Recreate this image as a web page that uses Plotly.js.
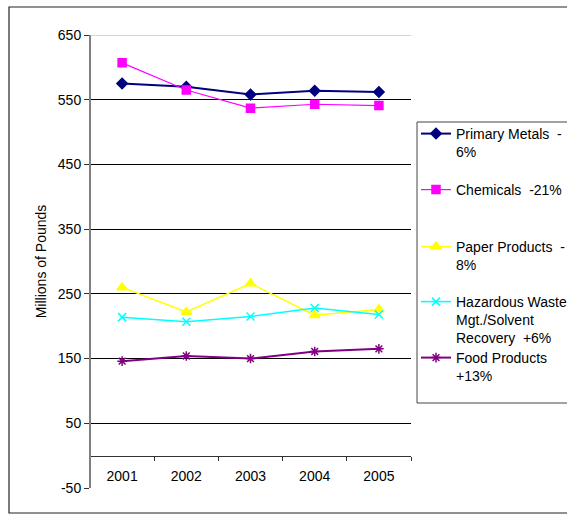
<!DOCTYPE html>
<html>
<head>
<meta charset="utf-8">
<script src="https://cdn.plot.ly/plotly-3.0.1.min.js"></script>
<style>html,body{margin:0;padding:0;background:#fff;}#chart{width:567px;height:516px;}</style>
</head>
<body>
<div id="chart"></div>
<script>
var years = ['2001', '2002', '2003', '2004', '2005'];
var primaryMetals = [575, 570, 558, 564, 562];
var chemicals = [607, 565, 537, 543, 541];
var paperProducts = [260, 222, 266, 217, 226];
var hazardousWaste = [214, 207, 215, 228, 218];
var foodProducts = [146, 154, 150, 161, 165];
var seriesNames = [
  'Primary Metals \u00a0-<br>6%',
  'Chemicals \u00a0-21%',
  'Paper Products \u00a0-<br>8%',
  'Hazardous Waste<br>Mgt./Solvent<br>Recovery \u00a0+6%',
  'Food Products<br>+13%'
];
var yTicks = [-50, 50, 150, 250, 350, 450, 550, 650];
var yTickText = ['-50', '50', '150', '250', '350', '450', '550', '650'];
var gridTicks = [50, 150, 250, 350, 450, 550];
var topTick = 650;

var FONT = '"Liberation Sans", Arial, sans-serif';
var FS = 14;
var plotTop = 35, plotBottom = 488, plotLeft = 90, plotRight = 411;
var H = plotBottom - plotTop, W = plotRight - plotLeft;
function py(p) { return (plotBottom - p) / H; }
function px(p) { return (p - plotLeft) / W; }

var traces = [
  {y: primaryMetals, color: '#000080', sym: 'diamond', size: 8, lw: 2},
  {y: chemicals, color: '#FF00FF', sym: 'square', size: 8, lw: 1.2},
  {y: paperProducts, color: '#FFFF00', sym: 'triangle-up', size: 9, lw: 1.5},
  {y: hazardousWaste, color: '#00FFFF', sym: 'x-thin-open', size: 8, lw: 1.5},
  {y: foodProducts, color: '#800080', sym: 'asterisk-open', size: 8, lw: 2}
].map(function (t, i) {
  return {
    type: 'scatter', mode: 'lines+markers',
    x: years, y: t.y, name: seriesNames[i],
    legend: i === 0 ? 'legend' : 'legend' + (i + 1),
    line: {color: t.color, width: t.lw},
    marker: {symbol: t.sym, size: t.size, color: t.color, line: {color: t.color, width: 1.5}},
    cliponaxis: false
  };
});

var legendTops = [118, 174, 231, 286, 342];
var layout = {
  width: 567, height: 516,
  margin: {l: plotLeft, r: 567 - plotRight, t: plotTop, b: 516 - plotBottom, autoexpand: false},
  paper_bgcolor: '#fff', plot_bgcolor: '#fff',
  font: {family: FONT, size: FS, color: '#000'},
  showlegend: true,
  xaxis: {
    type: 'category', range: [-0.5, 4.5], anchor: 'free', position: 50 / 700,
    tickson: 'boundaries', ticks: 'outside', ticklen: 4, tickcolor: '#333',
    showline: true, linecolor: '#333', linewidth: 1, showgrid: false, zeroline: false,
    ticklabelstandoff: 8, automargin: false,
    tickfont: {family: FONT, size: FS, color: '#000'}
  },
  yaxis: {
    range: [-50, 650], tickmode: 'array', tickvals: yTicks, ticktext: yTickText,
    ticks: 'outside', ticklen: 5, tickcolor: '#333',
    showline: false, showgrid: false, zeroline: false,
    automargin: false,
    minor: {tickmode: 'array', tickvals: gridTicks, showgrid: true, gridcolor: '#000', gridwidth: 1, ticks: ''},
    tickfont: {family: FONT, size: FS, color: '#000'},
    title: {text: 'Millions of Pounds', font: {family: FONT, size: FS, color: '#000'}, standoff: 7}
  },
  shapes: [
    {type: 'line', xref: 'paper', yref: 'y', x0: 0, x1: 1, y0: topTick, y1: topTick,
     line: {color: '#c8c8c8', width: 1.5}, layer: 'below'},
    {type: 'line', xref: 'paper', yref: 'paper', x0: 0, x1: 0, y0: 0, y1: 1,
     line: {color: '#808080', width: 2}, layer: 'above'},
    {type: 'rect', xref: 'paper', yref: 'paper', x0: px(9), x1: px(600), y0: py(513), y1: py(7),
     line: {color: '#222', width: 1.2}, fillcolor: 'rgba(0,0,0,0)', layer: 'below'},
    {type: 'rect', xref: 'paper', yref: 'paper', x0: px(417), x1: px(600), y0: py(403), y1: py(122),
     line: {color: '#444', width: 1}, fillcolor: 'rgba(0,0,0,0)', layer: 'below'}
  ]
};
legendTops.forEach(function (top, i) {
  var key = i === 0 ? 'legend' : 'legend' + (i + 1);
  layout[key] = {
    x: px(416), xanchor: 'left', y: py(top), yanchor: 'top',
    bgcolor: 'rgba(0,0,0,0)', borderwidth: 0, valign: 'top',
    font: {family: FONT, size: FS, color: '#000'}
  };
});

Plotly.newPlot('chart', traces, layout, {staticPlot: true});
</script>
</body>
</html>
